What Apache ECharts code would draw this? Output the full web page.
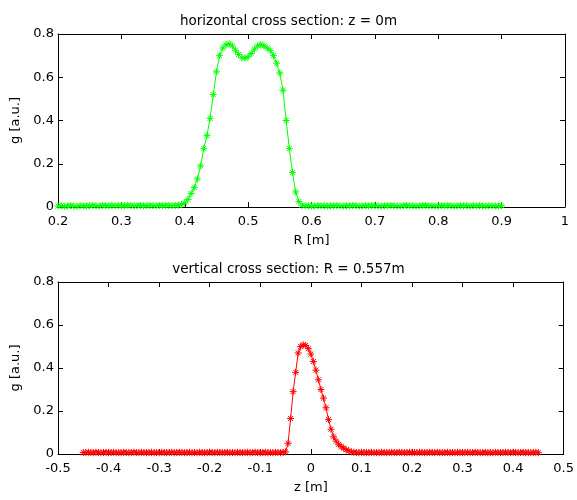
<!DOCTYPE html>
<html><head><meta charset="utf-8">
<script src="https://cdn.jsdelivr.net/npm/echarts@6/dist/echarts.min.js"></script>
<style>html,body{margin:0;padding:0;background:#fff}#c{width:577px;height:500px}</style>
</head><body><div id="c"></div>
<script>
// Horizontal cross section (z = 0m): R grid start/step and g values
var rStart = 0.2, rStep = 0.005;
var gHorizontal = [
 0.004,0.006,0.003,0.005,0.007,0.004,0.003,0.006,0.005,0.004,
 0.006,0.008,0.005,0.004,0.007,0.006,0.005,0.008,0.006,0.007,
 0.005,0.006,0.008,0.007,0.005,0.006,0.007,0.005,0.006,0.008,
 0.006,0.005,0.007,0.006,0.008,0.007,0.006,0.007,
 0.008,0.012,0.018,0.035,0.062,0.09,0.13,0.19,0.27,0.33,
 0.41,0.52,0.625,0.70,0.735,0.75,0.755,0.745,0.725,0.705,
 0.69,0.688,0.695,0.71,0.73,0.745,0.752,0.745,0.735,0.725,
 0.70,0.665,0.62,0.54,0.40,0.27,0.16,0.07,0.025,0.008,
 0.005,0.006,0.004,0.005,0.007,0.005,0.006,0.004,0.005,0.006,
 0.007,0.005,0.004,0.006,0.005,0.007,0.006,0.004,0.005,0.006,
 0.005,0.007,0.006,0.005,0.004,0.006,0.005,0.007,0.006,0.005,
 0.004,0.006,0.007,0.005,0.006,0.004,0.005,0.006,0.007,0.005,
 0.006,0.004,0.005,0.006,0.005,0.007,0.006,0.004,0.005,0.006,
 0.005,0.006,0.004,0.007,0.005,0.006,0.005,0.004,0.006,0.005,
 0.005,0.004,0.006
];
// Vertical cross section (R = 0.557m): z grid start/step and g values
var zStart = -0.45, zStep = 0.005;
var gVertical = [
 0.007,0.006,0.008,0.007,0.006,0.008,0.007,0.006,0.007,0.008,
 0.006,0.007,0.008,0.006,0.007,0.006,0.008,0.007,0.006,0.007,
 0.008,0.007,0.006,0.008,0.007,0.006,0.007,0.008,0.006,0.007,
 0.006,0.008,0.007,0.006,0.007,0.008,0.006,0.007,0.008,0.007,
 0.006,0.007,0.008,0.006,0.007,0.006,0.008,0.007,0.006,0.007,
 0.008,0.007,0.006,0.008,0.007,0.006,0.007,0.008,0.006,0.007,
 0.006,0.008,0.007,0.006,0.007,0.008,0.006,0.007,0.008,0.007,
 0.006,0.007,0.008,0.006,0.007,0.006,0.008,0.007,0.006,0.008,
 0.01,0.05,0.165,0.29,0.38,0.47,0.50,0.508,0.505,0.49,
 0.465,0.43,0.39,0.345,0.30,0.26,0.215,0.16,0.115,0.08,
 0.06,0.045,0.035,0.027,0.02,0.014,0.01,0.008,
 0.007,0.006,0.008,0.007,0.006,0.007,0.008,0.006,0.007,0.006,
 0.008,0.007,0.006,0.007,0.008,0.006,0.007,0.008,0.007,0.006,
 0.007,0.008,0.006,0.007,0.006,0.008,0.007,0.006,0.007,0.008,
 0.007,0.006,0.008,0.007,0.006,0.007,0.008,0.006,0.007,0.006,
 0.008,0.007,0.006,0.007,0.008,0.006,0.007,0.008,0.007,0.006,
 0.007,0.008,0.006,0.007,0.006,0.008,0.007,0.006,0.007,0.008,
 0.007,0.006,0.008,0.007,0.006,0.007,0.008,0.006,0.007,0.006,
 0.007,0.008,0.006
];
var topTitle = 'horizontal cross section: z = 0m';
var bottomTitle = 'vertical cross section: R = 0.557m';
var topXName = 'R [m]', bottomXName = 'z [m]', yName = 'g [a.u.]';

var horizPairs = gHorizontal.map(function(v,i){return [+(rStart+i*rStep).toFixed(4), v];});
var vertPairs = gVertical.map(function(v,i){return [+(zStart+i*zStep).toFixed(4), v];});

var FONT = '"DejaVu Sans", Arial, sans-serif';
var star = 'path://M0,-5L0,5M-5,0L5,0M-3.6,-3.6L3.6,3.6M-3.6,3.6L3.6,-3.6';
function fmt(v){ return (+v.toFixed(2)).toString(); }
var lab = {color:'#000', fontSize:13, fontFamily:FONT};
var nameLab = {color:'#000', fontSize:13, fontFamily:FONT};
function xMain(gi,min,max,name){
  return {gridIndex:gi,type:'value',min:min,max:max,interval:0.1,position:'bottom',
    name:name,nameLocation:'middle',nameGap:27,nameTextStyle:nameLab,
    axisLine:{onZero:false,lineStyle:{color:'#000',width:1}},
    axisTick:{inside:true,length:5,lineStyle:{color:'#000'}},
    axisLabel:Object.assign({margin:8,formatter:fmt},lab),splitLine:{show:false}};
}
function xTop(gi,min,max){
  return {gridIndex:gi,type:'value',min:min,max:max,interval:0.1,position:'top',
    axisLine:{onZero:false,lineStyle:{color:'#000',width:1}},
    axisTick:{inside:true,length:5,lineStyle:{color:'#000'}},
    axisLabel:{show:false},splitLine:{show:false}};
}
function yMain(gi){
  return {gridIndex:gi,type:'value',min:0,max:0.8,interval:0.2,position:'left',
    name:yName,nameLocation:'middle',nameGap:35,nameTextStyle:nameLab,
    axisLine:{onZero:false,lineStyle:{color:'#000',width:1}},
    axisTick:{inside:true,length:5,lineStyle:{color:'#000'}},
    axisLabel:Object.assign({margin:4,formatter:fmt},lab),splitLine:{show:false}};
}
function yRight(gi){
  return {gridIndex:gi,type:'value',min:0,max:0.8,interval:0.2,position:'right',
    axisLine:{onZero:false,lineStyle:{color:'#000',width:1}},
    axisTick:{inside:true,length:5,lineStyle:{color:'#000'}},
    axisLabel:{show:false},splitLine:{show:false}};
}
var chart = echarts.init(document.getElementById('c'),null,{renderer:'canvas'});
chart.setOption({
  animation:false,
  backgroundColor:'#fff',
  title:[
    {text:topTitle,left:'center',top:9,textStyle:{fontSize:13.5,fontWeight:'normal',color:'#000',fontFamily:FONT}},
    {text:bottomTitle,left:'center',top:257,textStyle:{fontSize:13.5,fontWeight:'normal',color:'#000',fontFamily:FONT}}
  ],
  grid:[
    {left:58,right:12,top:34,height:173},
    {left:58,right:12,top:282,height:172}
  ],
  xAxis:[xMain(0,0.2,1,topXName),xTop(0,0.2,1),xMain(1,-0.5,0.5,bottomXName),xTop(1,-0.5,0.5)],
  yAxis:[yMain(0),yRight(0),yMain(1),yRight(1)],
  series:[
    {type:'line',xAxisIndex:0,yAxisIndex:0,data:horizPairs,symbol:star,symbolSize:7,
     lineStyle:{color:'#00ff00',width:1},itemStyle:{color:'none',borderColor:'#00ff00',borderWidth:1}},
    {type:'line',xAxisIndex:2,yAxisIndex:2,data:vertPairs,symbol:star,symbolSize:7,
     lineStyle:{color:'#ff0000',width:1},itemStyle:{color:'none',borderColor:'#ff0000',borderWidth:1}}
  ]
});
</script></body></html>
